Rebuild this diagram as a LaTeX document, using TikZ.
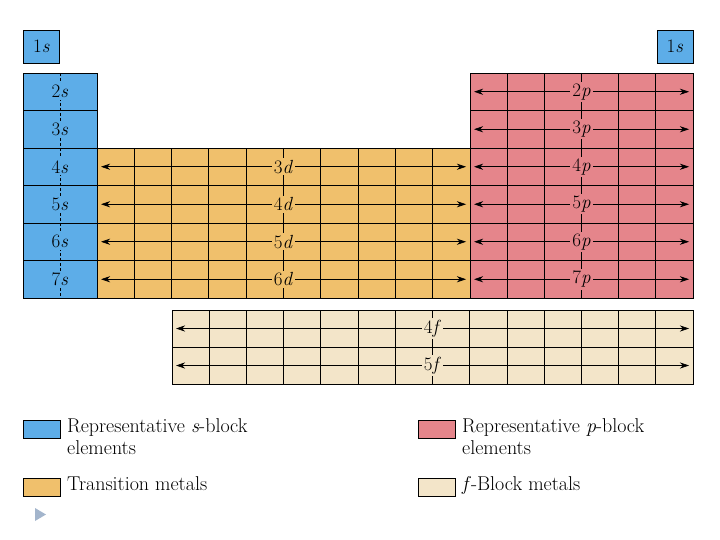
\documentclass[tikz,border=0pt]{standalone}
\usetikzlibrary{arrows.meta}
\definecolor{sblue}{HTML}{5DADE8}
\definecolor{dorange}{HTML}{F0C06C}
\definecolor{pred}{HTML}{E5858B}
\definecolor{fcream}{HTML}{F3E5C9}
\definecolor{tri}{HTML}{A3B5CC}
\begin{document}
\begin{tikzpicture}[x=1pt,y=-1pt,
  cell/.style={draw=black,line width=0.9pt},
  lab/.style={font=\fontsize{19}{20}\selectfont,inner sep=2pt},
  arr/.style={{Stealth[length=9pt,width=6pt]}-{Stealth[length=9pt,width=6pt]},line width=0.7pt},
  ctr/.style={densely dashed,line width=0.7pt},
  leg/.style={font=\fontsize{20}{22}\selectfont,anchor=north west,align=left,inner sep=0pt}]
\useasboundingbox (0,0) rectangle (720,540);
% 1s boxes
\node[cell,fill=sblue,minimum width=36,minimum height=33,inner sep=0,lab] (s1l) at (41.5,46.5) {1\textit{s}};
\node[cell,fill=sblue,minimum width=36,minimum height=33,inner sep=0,lab] (s1r) at (675,46.5) {1\textit{s}};
% s block
\fill[sblue] (23,73) rectangle (97,298);
\draw[ctr] (60,73) -- (60,298);
\foreach \r/\n in {0/2,1/3,2/4,3/5,4/6,5/7}{
  \draw[cell] (23,73+37.5*\r) rectangle (97,110.5+37.5*\r);
  \node[lab,fill=sblue] (s\n) at (60,91.75+37.5*\r) {\n\textit{s}};
}
% d block
\fill[dorange] (97,148) rectangle (470,298);
\draw[ctr] (283.5,148) -- (283.5,298);
\foreach \c in {0,...,9}{\foreach \r in {0,...,3}{
  \draw[cell] (97+37.3*\c,148+37.5*\r) rectangle (134.3+37.3*\c,185.5+37.5*\r);}}
\foreach \r/\n in {0/3,1/4,2/5,3/6}{
  \coordinate (dl\n) at (101,166.75+37.5*\r);
  \coordinate (dr\n) at (466,166.75+37.5*\r);
  \draw[arr] (dl\n) -- (dr\n);
  \node[lab,fill=dorange] (d\n) at (283.5,166.75+37.5*\r) {\n\textit{d}};
}
% p block
\fill[pred] (470,73) rectangle (693,298);
\draw[ctr] (581.5,73) -- (581.5,298);
\foreach \c in {0,...,5}{\foreach \r in {0,...,5}{
  \draw[cell] (470+37.17*\c,73+37.5*\r) rectangle (507.17+37.17*\c,110.5+37.5*\r);}}
\foreach \r/\n in {0/2,1/3,2/4,3/5,4/6,5/7}{
  \coordinate (pl\n) at (474,91.75+37.5*\r);
  \coordinate (pr\n) at (689,91.75+37.5*\r);
  \draw[arr] (pl\n) -- (pr\n);
  \node[lab,fill=pred] (p\n) at (581.5,91.75+37.5*\r) {\n\textit{p}};
}
% f block
\fill[fcream] (172,310) rectangle (693,384);
\draw[ctr] (432.5,310) -- (432.5,384);
\foreach \c in {0,...,13}{\foreach \r in {0,1}{
  \draw[cell,line width=0.7pt] (172+37.21*\c,310+37*\r) rectangle (209.21+37.21*\c,347+37*\r);}}
\foreach \r/\n in {0/4,1/5}{
  \coordinate (fl\n) at (176,328.5+37*\r);
  \coordinate (fr\n) at (689,328.5+37*\r);
  \draw[arr] (fl\n) -- (fr\n);
  \node[lab,fill=fcream] (f\n) at (432.5,328.5+37*\r) {\n\textit{f}};
}
% legend
\node[cell,fill=sblue,minimum width=37,minimum height=18,inner sep=0] (ls) at (41.5,429) {};
\node[cell,fill=dorange,minimum width=37,minimum height=18,inner sep=0] (ld) at (41.5,487) {};
\node[cell,fill=pred,minimum width=37,minimum height=18,inner sep=0] (lp) at (436.5,429) {};
\node[cell,fill=fcream,minimum width=37,minimum height=18,inner sep=0] (lf) at (436.5,487) {};
\node[leg] (ts) at (67,418) {Representative \textit{s}-block\\elements};
\node[leg] (td) at (67,476) {Transition metals};
\node[leg] (tp) at (462,418) {Representative \textit{p}-block\\elements};
\node[leg] (tf) at (462,476) {\textit{f}-Block metals};
\fill[tri] (35,508) -- (46,514.5) -- (35,521) -- cycle;
\end{tikzpicture}
\end{document}
